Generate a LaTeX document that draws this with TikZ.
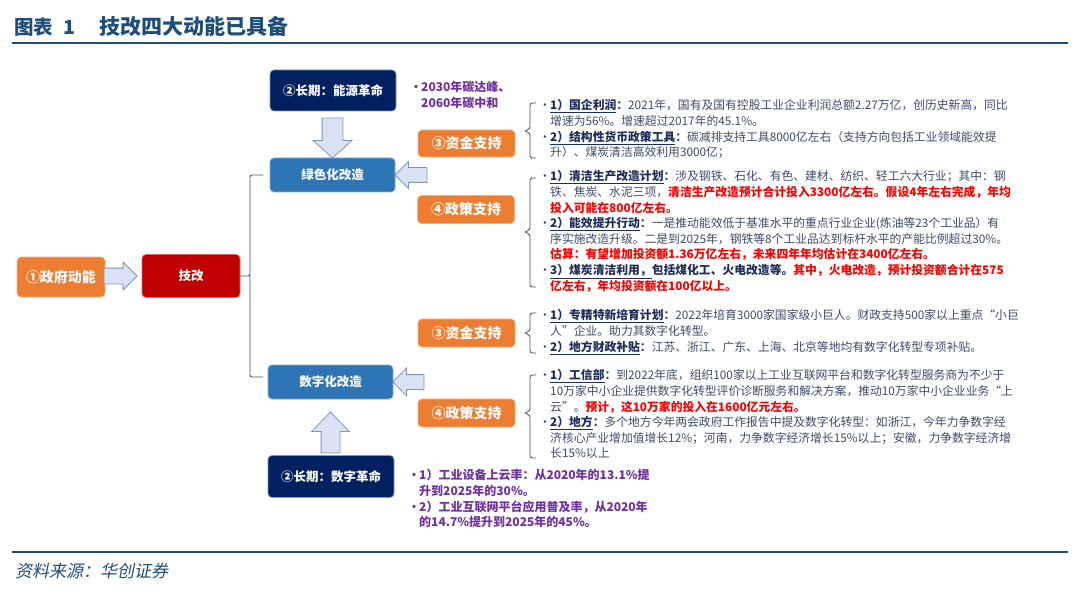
\documentclass[tikz,border=0pt]{standalone}
\usepackage{fontspec}
\setmainfont{Noto Sans CJK SC}
\newfontfamily\srcfont{Noto Sans CJK SC}[FakeSlant=0.2]
\usetikzlibrary{shapes.arrows,calc}
\definecolor{orng}{HTML}{ED7D31}
\definecolor{darkred}{HTML}{C00000}
\definecolor{midblue}{HTML}{2E75B6}
\definecolor{navy}{HTML}{002060}
\definecolor{afill}{HTML}{DAE3F3}
\definecolor{aedge}{HTML}{7F96BF}
\definecolor{purp}{HTML}{7030A0}
\definecolor{bodytxt}{HTML}{3E4A6A}
\definecolor{labtxt}{HTML}{1F2D5A}
\definecolor{redtxt}{HTML}{FF0000}
\definecolor{titleblue}{HTML}{1F4E79}
\definecolor{brk}{HTML}{44546A}
\newcommand\mybul{\makebox[11pt][l]{•}}
\newcommand\myind{\hspace*{11pt}}
\newcommand\lbl[1]{\textcolor{labtxt}{\textbf{\underline{#1}}}}
\newcommand\rtx[1]{\textcolor{redtxt}{\textbf{#1}}}
\newcommand\bracegrp[3]{\draw[brace] (536,#1) -- (530,#1) -- (530,#3-2) -- (524,#3) -- (530,#3+2) -- (530,#2) -- (536,#2);}
\tikzset{
  bx/.style={rounded corners=4pt, inner sep=0pt, outer sep=0pt, align=center, text=white, line width=0.6pt},
  obox/.style={bx, fill=orng, draw=orng!60!white, minimum width=97pt, minimum height=27pt, font=\bfseries\fontsize{14}{16}\selectfont},
  rbox/.style={bx, fill=darkred, draw=darkred!60!white, minimum width=98pt, minimum height=43pt, font=\bfseries\fontsize{12.5}{15}\selectfont},
  bbox/.style={bx, fill=midblue, draw=midblue!60!white, minimum width=125pt, minimum height=34pt, font=\bfseries\fontsize{12.5}{15}\selectfont},
  nbox/.style={bx, fill=navy, draw=aedge, minimum width=126pt, minimum height=41pt, font=\bfseries\fontsize{12.5}{15}\selectfont},
  barrow/.style n args={3}{single arrow, draw=aedge, fill=afill, line width=0.8pt, inner xsep=0pt, inner ysep=#2, outer sep=0pt, minimum height=#1, minimum width=0pt, single arrow head extend=#3},
  txtblk/.style={anchor=north west, inner sep=0pt, align=left, text=bodytxt, font=\fontsize{11.8}{15.6}\selectfont},
  purblk/.style={anchor=north west, inner sep=0pt, align=left, text=purp, font=\bfseries\fontsize{12}{15.5}\selectfont},
  conn/.style={draw=brk, line width=0.9pt, rounded corners=2pt},
  brace/.style={draw=brk, line width=0.9pt, rounded corners=2.5pt},
  rule/.style={draw=titleblue, line width=2pt}
}
\begin{document}
\begin{tikzpicture}[x=1pt,y=-1pt]
\useasboundingbox (0,0) rectangle (1080,591);
\fill[white] (0,0) rectangle (1080,591);
% title and rules
\node[anchor=west, inner sep=0pt, text=titleblue, font=\bfseries\fontsize{19.5}{22}\selectfont] (title) at (14,26.5) {图表\hspace{10pt}1\hspace{24pt}{\fontsize{21}{22}\selectfont 技改四大动能已具备}};
\draw[rule] (12,43) -- (1068,43);
\draw[rule] (12,551.5) -- (1068,551.5);
\node[anchor=west, inner sep=0pt, text=titleblue, font=\srcfont\fontsize{17}{19}\selectfont] (src) at (15,571) {资料来源：华创证券};
% main nodes
\node[obox, minimum width=88pt, minimum height=40pt] (gov) at (61,277) {①政府动能};
\node[rbox] (jg) at (191,276) {技改};
\node[nbox] (ny1) at (333,90.5) {②长期：能源革命};
\node[bbox] (green) at (332.5,175) {绿色化改造};
\node[obox] (fund1) at (466.5,143.5) {③资金支持};
\node[obox, minimum height=28pt] (pol1) at (466,209.5) {④政策支持};
\node[obox, minimum height=28pt] (fund2) at (466.5,333) {③资金支持};
\node[bbox] (digit) at (330.5,382) {数字化改造};
\node[obox, minimum height=28pt] (pol2) at (466.5,413) {④政策支持};
\node[nbox, minimum height=42pt] (ny2) at (331,476.5) {②长期：数字革命};
% block arrows
\node[barrow={33pt}{7.5pt}{6pt}, anchor=tip] (a1) at ([xshift=-5pt]jg.west) {};
\node[barrow={40pt}{10pt}{9pt}, single arrow tip angle=96, rotate=-90, anchor=tip] (a2) at (green.north) {};
\node[barrow={32pt}{7pt}{6pt}, rotate=180, anchor=tip] (a3) at (green.east) {};
\node[barrow={31pt}{7pt}{6.5pt}, single arrow tip angle=92, rotate=180, anchor=tip] (a4) at (digit.east) {};
\node[barrow={41pt}{9pt}{9.5pt}, single arrow tip angle=88, rotate=90, anchor=tip] (a5) at ([yshift=-13pt]digit.south) {};
% bracket from jg
\draw[conn] (jg.east) -- ([xshift=10pt]jg.east) |- ([xshift=-7pt]green.west);
\draw[conn] ([xshift=10pt]jg.east) |- ([xshift=-5pt,yshift=5pt]digit.west);
% purple notes
\node[purblk] (p1) at (410,81) {\makebox[11pt][l]{•}2030年碳达峰、\\\hspace*{11pt}2060年碳中和};
\node[purblk, font=\bfseries\fontsize{12}{15.7}\selectfont] (p2) at (408,469.3) {\makebox[11pt][l]{•}1）工业设备上云率：从2020年的13.1\%提\\\hspace*{11pt}升到2025年的30\%。\\\makebox[11pt][l]{•}2）工业互联网平台应用普及率，从2020年\\\hspace*{11pt}的14.7\%提升到2025年的45\%。};
% text blocks
\node[txtblk] (tA) at (539,99.5) {\mybul\lbl{1）国企利润}\textbf{：}2021年，国有及国有控股工业企业利润总额2.27万亿，创历史新高，同比\\
\myind 增速为56\%。增速超过2017年的45.1\%。\\
\mybul\lbl{2）结构性货币政策工具}\textbf{：}碳减排支持工具8000亿左右（支持方向包括工业领域能效提\\
\myind 升）、煤炭清洁高效利用3000亿；};
\node[txtblk] (tB) at (539,170.5) {\mybul\lbl{1）清洁生产改造计划}\textbf{：}涉及钢铁、石化、有色、建材、纺织、轻工六大行业；其中：钢\\
\myind 铁、焦炭、水泥三项，\rtx{清洁生产改造预计合计投入3300亿左右。假设4年左右完成，年均}\\
\myind\rtx{投入可能在800亿左右。}\\
\mybul\lbl{2）能效提升行动}\textbf{：}一是推动能效低于基准水平的重点行业企业(炼油等23个工业品）有\\
\myind 序实施改造升级。二是到2025年，钢铁等8个工业品达到标杆水平的产能比例超过30\%。\\
\myind\rtx{估算：有望增加投资额1.36万亿左右，未来四年年均估计在3400亿左右。}\\
\mybul\lbl{3）煤炭清洁利用，}\textcolor{labtxt}{\textbf{包括煤化工、火电改造等。}}\rtx{其中，火电改造，预计投资额合计在575}\\
\myind\rtx{亿左右，年均投资额在100亿以上。}};
\node[txtblk] (tC) at (539,309.5) {\mybul\lbl{1）专精特新培育计划}\textbf{：}2022年培育3000家国家级小巨人。财政支持500家以上重点“小巨\\
\myind 人”企业。助力其数字化转型。\\
\mybul\lbl{2）地方财政补贴}\textbf{：}江苏、浙江、广东、上海、北京等地均有数字化转型专项补贴。};
\node[txtblk] (tD) at (539,369.5) {\mybul\lbl{1）工信部}\textbf{：}到2022年底，组织100家以上工业互联网平台和数字化转型服务商为不少于\\
\myind 10万家中小企业提供数字化转型评价诊断服务和解决方案，推动10万家中小企业业务“上\\
\myind 云”。\rtx{预计，这10万家的投入在1600亿元左右。}\\
\mybul\lbl{2）地方}\textbf{：}多个地方今年两会政府工作报告中提及数字化转型：如浙江，今年力争数字经\\
\myind 济核心产业增加值增长12\%；河南，力争数字经济增长15\%以上；安徽，力争数字经济增\\
\myind 长15\%以上};
% braces
\bracegrp{103}{158}{131}
\bracegrp{178}{287}{232}
\bracegrp{313}{353}{333}
\bracegrp{375}{458}{413}
\end{tikzpicture}
\end{document}
